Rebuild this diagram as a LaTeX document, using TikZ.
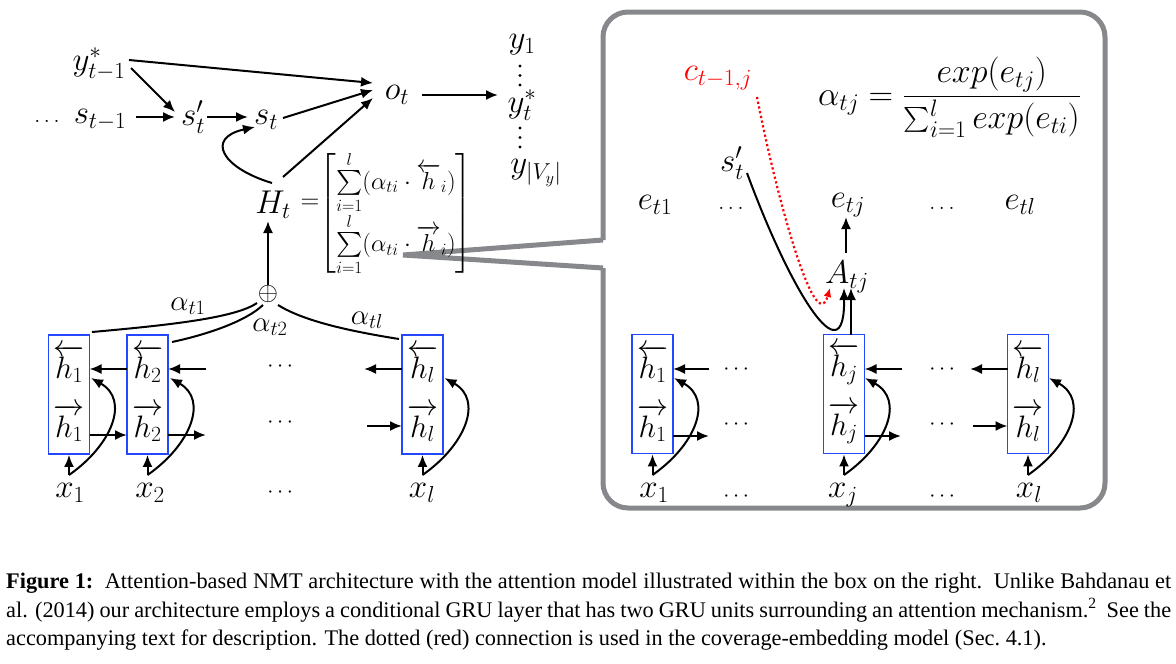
\RequirePackage{fix-cm}
\documentclass[tikz,border=0pt]{standalone}
\usepackage{amsmath}
\usepackage{fontspec}
\newfontfamily\capfont{Liberation Serif}
\usetikzlibrary{arrows.meta,calc}
\definecolor{boxblue}{RGB}{35,70,255}
\definecolor{boxgray}{RGB}{134,136,139}
\tikzset{
  mth/.style={inner sep=0pt, font=\fontsize{33}{39}\selectfont},
  hlab/.style={inner sep=0pt, font=\fontsize{31}{37}\selectfont},
  eqR/.style={inner sep=0pt, font=\fontsize{34}{40}\selectfont},
  alf/.style={inner sep=0pt, font=\fontsize{29}{34}\selectfont},
  eqf/.style={inner sep=0pt, font=\fontsize{26}{30}\selectfont},
  matf/.style={inner sep=0pt, font=\fontsize{24.5}{29}\selectfont},
  dotf/.style={inner sep=0pt, font=\fontsize{22}{26}\selectfont},
  opf/.style={inner sep=0pt, font=\fontsize{26}{30}\selectfont},
  capf/.style={inner sep=0pt, font=\capfont\fontsize{22.3}{26}\selectfont},
  arr/.style={line width=2pt, -{Latex[length=12pt,width=10pt]}},
  ln/.style={line width=2pt},
  hbox/.style={draw=boxblue, line width=1.8pt, minimum width=41pt, minimum height=119pt, inner sep=0pt},
  gr/.style={draw=boxgray, line width=5pt},
  reddot/.style={red, line width=2.2pt, dash pattern=on 2.2pt off 2.6pt, -{Latex[length=9pt,width=8pt]}},
}
\begin{document}
\begin{tikzpicture}[x=1pt,y=-1pt]
\fill[white] (0,0) rectangle (1176,664);
\useasboundingbox (0,0) rectangle (1176,664);

% ---------- gray callout box ----------
\draw[gr, rounded corners=25pt] (603,240) -- (603,12) -- (1105,12) -- (1105,508) -- (603,508) -- (603,268);
\draw[gr, line join=miter] (603,240) -- (403,255) -- (603,268);

% ---------- left: decoder ----------
\node[mth] (yst) at (99,64) {$y^*_{t-1}$};
\node[dotf] (ld) at (47,121) {$\ldots$};
\node[mth] (stm) at (100,120) {$s_{t-1}$};
\node[mth] (sp) at (193,117) {$s'_t$};
\node[mth] (st) at (266,120) {$s_t$};
\node[mth] (ot) at (397,95) {$o_t$};
\node[mth] (y1) at (522,45) {$y_1$};
\node[mth] (ys) at (522,105) {$y^*_t$};
\node[mth] (yV) at (536,173) {$y_{|V_y|}$};
\fill (520,66) circle (1.7) (520,75.5) circle (1.7) (520,85) circle (1.7);
\fill (520,128) circle (1.7) (520,137.5) circle (1.7) (520,147) circle (1.7);
\node[mth] (Ht) at (273,205) {$H_t$};
\node[eqf] (eq) at (310,204) {$=$};
\node[matf] (M) at (396,213.5) {$\left[\begin{array}{@{}l@{}}\sum\limits_{i=1}^{l}(\alpha_{ti}\cdot\overleftarrow{h}_i)\\[5pt] \sum\limits_{i=1}^{l}(\alpha_{ti}\cdot\overrightarrow{h}_i)\end{array}\right]$};
\node[opf] (op) at (268,294) {$\oplus$};

\draw[arr] ($(yst)+(30,-4)$) -- ($(ot)+(-24,-12)$);
\draw[arr] ($(yst)+(32,4)$) -- ($(sp)+(-18,-5)$);
\draw[arr] ($(stm)+(36,-3)$) -- ($(sp)+(-18,0)$);
\draw[arr] ($(sp)+(14,0)$) -- ($(st)+(-18,-3)$);
\draw[arr] ($(st)+(17,-2)$) -- ($(ot)+(-24,-5)$);
\draw[arr] ($(Ht)+(10,-28)$) -- ($(ot)+(-24,3)$);
\draw[arr] ($(Ht)+(-1,-22)$) .. controls (222,168) and (205,138) .. ($(st)+(-11,7)$);
\draw[arr] ($(op)+(0,-9)$) -- ($(Ht)+(-5,16)$);
\draw[arr] ($(ot)+(25,0)$) -- ($(ys)+(-24,-10)$);

% ---------- left: encoder ----------
\node[hbox] (b1) at (69,394.5) {};
\node[hbox] (b2) at (147.5,394.5) {};
\node[hbox] (bl) at (422.5,394.5) {};
\node[hlab] (b1u) at (69,364) {$\overleftarrow{h_1}$};
\node[hlab] (b1d) at (69,423) {$\overrightarrow{h_1}$};
\node[hlab] (b2u) at (147.5,364) {$\overleftarrow{h_2}$};
\node[hlab] (b2d) at (147.5,423) {$\overrightarrow{h_2}$};
\node[hlab] (blu) at (422.5,364) {$\overleftarrow{h_l}$};
\node[hlab] (bld) at (422.5,423) {$\overrightarrow{h_l}$};
\node[mth] (x1) at (70,493) {$x_1$};
\node[mth] (x2) at (150,493) {$x_2$};
\node[mth] (xl) at (422,493) {$x_l$};
\node[dotf] (dl1) at (282,367) {$\cdots$};
\node[dotf] (dl2) at (282,423) {$\cdots$};
\node[dotf] (dl3) at (282,493) {$\cdots$};
\node[alf] (a1) at (188,306) {$\alpha_{t1}$};
\node[alf] (a2) at (270,327) {$\alpha_{t2}$};
\node[alf] (al) at (367,320) {$\alpha_{tl}$};

\draw[ln] ($(op)+(-11,9)$) .. controls (235,318) and (170,325) .. ($(b1)+(23,-62.5)$);
\draw[ln] ($(op)+(-5,11)$) .. controls (245,322) and (205,335) .. ($(b2)+(24.5,-52.5)$);
\draw[ln] ($(op)+(10,11)$) .. controls (305,322) and (355,332) .. ($(bl)+(-23.5,-55.5)$);

\draw[arr] ($(b2)+(-20.5,-25.5)$) -- ($(b1)+(20.5,-25.5)$);
\draw[arr] ($(b2)+(58.5,-25.5)$) -- ($(b2)+(20.5,-25.5)$);
\draw[arr] ($(bl)+(-20.5,-25.5)$) -- ($(bl)+(-58.5,-25.5)$);
\draw[arr] ($(b1)+(20.5,40.5)$) -- ($(b2)+(-20.5,40.5)$);
\draw[arr] ($(b2)+(20.5,40.5)$) -- ($(b2)+(58.5,40.5)$);
\draw[arr] ($(bl)+(-55.5,31.5)$) -- ($(bl)+(-20.5,31.5)$);

\draw[arr] ($(x1)+(-1,-18)$) -- (b1.south);
\draw[arr] ($(x1)+(-1,-18)$) .. controls ($(x1)+(42,-48)$) and ($(x1)+(60,-93)$) .. ($(b1)+(22,-16.5)$);
\draw[arr] ($(x2)+(-2.5,-18)$) -- (b2.south);
\draw[arr] ($(x2)+(-2.5,-18)$) .. controls ($(x2)+(40.5,-48)$) and ($(x2)+(58.5,-93)$) .. ($(b2)+(22.5,-16.5)$);
\draw[arr] ($(xl)+(0.5,-18)$) -- (bl.south);
\draw[arr] ($(xl)+(0.5,-18)$) .. controls ($(xl)+(43.5,-48)$) and ($(xl)+(61.5,-93)$) .. ($(bl)+(22,-16.5)$);

% ---------- right: attention model ----------
\node[mth, red] (cR) at (718,78) {$c_{t-1,j}$};
\node[eqR, anchor=west] (aeq) at (818,97) {$\alpha_{tj}=\dfrac{exp(e_{tj})}{\sum_{i=1}^{l}exp(e_{ti})}$};
\node[mth] (spR) at (732,163) {$s'_t$};
\node[mth] (e1) at (655,205) {$e_{t1}$};
\node[dotf] (ed1) at (731,208) {$\ldots$};
\node[mth] (etj) at (848,205) {$e_{tj}$};
\node[dotf] (ed2) at (942,208) {$\ldots$};
\node[mth] (etl) at (1020,205) {$e_{tl}$};
\node[mth] (Atj) at (847,277) {$A_{tj}$};

\node[hbox] (r1) at (652.5,394) {};
\node[hbox] (rj) at (844,394) {};
\node[hbox] (rl) at (1028,394) {};
\node[hlab] (r1u) at (652.5,364) {$\overleftarrow{h_1}$};
\node[hlab] (r1d) at (652.5,423) {$\overrightarrow{h_1}$};
\node[hlab] (rju) at (844,364) {$\overleftarrow{h_j}$};
\node[hlab] (rjd) at (844,423) {$\overrightarrow{h_j}$};
\node[hlab] (rlu) at (1028,364) {$\overleftarrow{h_l}$};
\node[hlab] (rld) at (1028,423) {$\overrightarrow{h_l}$};
\node[mth] (rx1) at (654,493) {$x_1$};
\node[mth] (rxj) at (843,495) {$x_j$};
\node[mth] (rxl) at (1029,493) {$x_l$};
\node[dotf] (rd1) at (738,370) {$\cdots$};
\node[dotf] (rd2) at (944,370) {$\cdots$};
\node[dotf] (rd3) at (738,425) {$\cdots$};
\node[dotf] (rd4) at (944,425) {$\cdots$};
\node[dotf] (rd5) at (738,497) {$\cdots$};
\node[dotf] (rd6) at (944,497) {$\cdots$};

\draw[arr] ($(rj)+(7,-59.5)$) -- ($(Atj)+(4,11)$);
\draw[arr] ($(spR)+(15,10)$) .. controls (790,290) and (845,380) .. ($(Atj)+(-3,11)$);
\draw[reddot] ($(cR)+(39,19)$) .. controls (775,190) and (815,340) .. ($(Atj)+(-17,11)$);
\draw[arr] ($(Atj)+(-1,-24)$) -- ($(etj)+(-2,12)$);

\draw[arr] ($(r1)+(56.5,-25)$) -- ($(r1)+(20.5,-25)$);
\draw[arr] ($(rj)+(58,-25)$) -- ($(rj)+(20.5,-25)$);
\draw[arr] ($(rl)+(-20.5,-25)$) -- ($(rl)+(-58,-25)$);
\draw[arr] ($(r1)+(20.5,42)$) -- ($(r1)+(56.5,42)$);
\draw[arr] ($(rj)+(20.5,42)$) -- ($(rj)+(57,42)$);
\draw[arr] ($(rl)+(-55,32)$) -- ($(rl)+(-20.5,32)$);

\draw[arr] ($(rx1)+(-1.5,-18)$) -- (r1.south);
\draw[arr] ($(rx1)+(-1.5,-18)$) .. controls ($(rx1)+(41.5,-48)$) and ($(rx1)+(59.5,-93)$) .. ($(r1)+(21.5,-16)$);
\draw[arr] ($(rxj)+(1,-20)$) -- (rj.south);
\draw[arr] ($(rxj)+(1,-20)$) .. controls ($(rxj)+(44,-50)$) and ($(rxj)+(62,-95)$) .. ($(rj)+(21,-16)$);
\draw[arr] ($(rxl)+(-1,-18)$) -- (rl.south);
\draw[arr] ($(rxl)+(-1,-18)$) .. controls ($(rxl)+(42,-48)$) and ($(rxl)+(60,-93)$) .. ($(rl)+(21,-16)$);

% ---------- caption ----------
\node[capf, anchor=base west] (cap1) at (6,588) {\makebox[1165pt][s]{\textbf{Figure 1:}\ \ Attention-based NMT architecture with the attention model illustrated within the box on the right.\ \ Unlike Bahdanau et}};
\node[capf, anchor=base west] (cap2) at (6,617) {\makebox[1165pt][s]{al. (2014) our architecture employs a conditional GRU layer that has two GRU units surrounding an attention mechanism.\textsuperscript{2}\ \ See the}};
\node[capf, anchor=base west] (cap3) at (6,645) {accompanying text for description. The dotted (red) connection is used in the coverage-embedding model (Sec.~4.1).};
\end{tikzpicture}
\end{document}
